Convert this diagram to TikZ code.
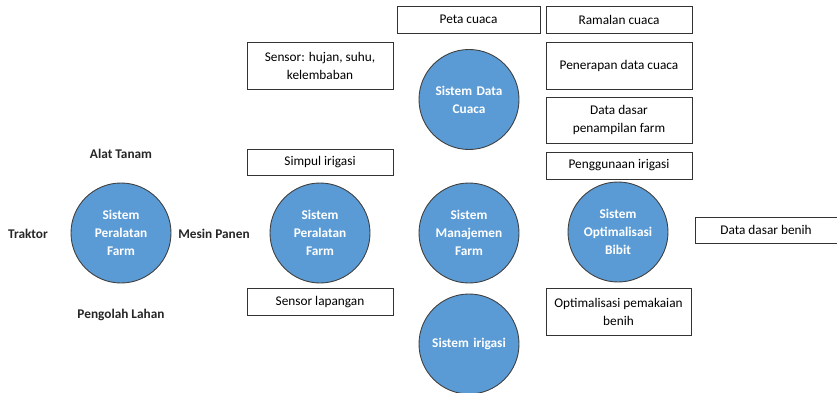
\documentclass[tikz,border=0pt]{standalone}
\usepackage{fontspec}
\setmainfont{Carlito}
\begin{document}
\begin{tikzpicture}[x=1pt,y=-1pt,
  every node/.style={font=\fontsize{13.3}{18}\selectfont},
  sys/.style={circle,draw=black!75,line width=0.9pt,fill=sysblue,minimum size=100pt,inner sep=0pt,
    text=white,font=\fontsize{13.3}{18}\selectfont\bfseries,align=center,text width=88pt},
  infobox/.style={draw=black!80,line width=0.9pt,fill=white,inner sep=0pt,align=center},
  tool/.style={font=\fontsize{13.3}{18}\selectfont\bfseries,text=black!85}]
\definecolor{sysblue}{HTML}{5B9BD5}
\useasboundingbox (0,0) rectangle (837,393);

% system circles
\node[sys] (alat) at (121,233) {Sistem\\Peralatan\\Farm};
\node[sys] (peralatan) at (320,233) {Sistem\\Peralatan\\Farm};
\node[sys] (cuaca) at (469,99.5) {Sistem Data\\Cuaca};
\node[sys] (manajemen) at (469,233) {Sistem\\Manajemen\\Farm};
\node[sys] (bibit) at (618,232) {Sistem\\Optimalisasi\\Bibit};
\node[sys] (irigasi) at (469,344) {Sistem irigasi};

% farm equipment labels
\node[tool] (tanam) at (121,154) {Alat Tanam};
\node[tool] (traktor) at (28,234) {Traktor};
\node[tool] (panen) at (214,234) {Mesin Panen};
\node[tool] (lahan) at (121,315) {Pengolah Lahan};

% information boxes
\node[infobox,minimum width=143pt,minimum height=27pt] (peta) at (468.5,19.5) {Peta cuaca};
\node[infobox,minimum width=146pt,minimum height=27pt] (ramalan) at (619,19.5) {Ramalan cuaca};
\node[infobox,minimum width=146pt,minimum height=47pt] (sensor) at (320,65.5) {Sensor: hujan, suhu,\\kelembaban};
\node[infobox,minimum width=146pt,minimum height=26pt] (simpul) at (320,162) {Simpul irigasi};
\node[infobox,minimum width=146pt,minimum height=27pt] (lapangan) at (320,302) {Sensor lapangan};
\node[infobox,minimum width=146pt,minimum height=47pt] (penerapan) at (619,65.5) {Penerapan data cuaca};
\node[infobox,minimum width=146pt,minimum height=46pt] (tampil) at (619,120) {Data dasar\\penampilan farm};
\node[infobox,minimum width=146pt,minimum height=27pt] (guna) at (619,165.5) {Penggunaan irigasi};
\node[infobox,minimum width=145pt,minimum height=47pt] (pakai) at (618.5,311.5) {Optimalisasi pemakaian\\benih};
\node[infobox,minimum width=142pt,minimum height=26pt] (benih) at (766,230) {Data dasar benih};
\end{tikzpicture}
\end{document}
